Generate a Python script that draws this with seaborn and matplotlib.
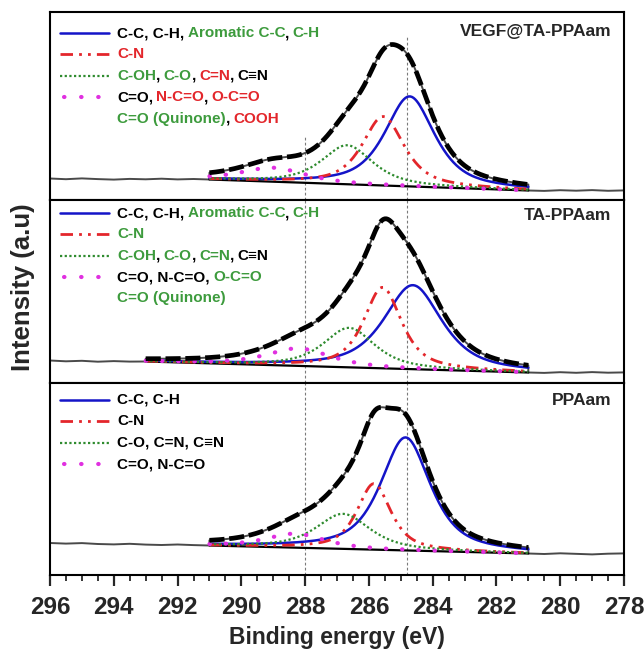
import numpy as np
import pandas as pd
import matplotlib
matplotlib.use("Agg")
import matplotlib.pyplot as plt
import seaborn as sns
from matplotlib.offsetbox import AnchoredOffsetbox, TextArea, HPacker, VPacker, DrawingArea
from matplotlib.lines import Line2D
from matplotlib.ticker import MultipleLocator

# ---------------------------------------------------------------- data
samples = ["VEGF@TA-PPAam", "TA-PPAam", "PPAam"]

# fitted C1s components (centre in eV, height in a.u., FWHM in eV), one entry per sample
cc_center = [284.72, 284.62, 284.85]
cc_height = [90.0, 84.0, 113.0]
cc_fwhm = [1.85, 2.15, 1.85]

cn_center = [285.55, 285.57, 285.84]
cn_height = [69.0, 81.0, 66.0]
cn_fwhm = [1.55, 1.40, 1.25]

co_center = [286.68, 286.62, 286.81]
co_height = [39.0, 39.5, 35.0]
co_fwhm = [1.9, 1.9, 2.0]

cdo_center = [289.0, 288.2, 288.3]
cdo_height = [14.0, 17.5, 14.0]
cdo_fwhm = [2.4, 2.4, 2.2]

# fit window and linear background end points
fit_start = [291.0, 293.0, 291.0]
fit_end = [281.0, 281.0, 281.0]
bg_start = [20.5, 21.5, 29.5]
bg_end = [9.5, 10.5, 21.5]

# measured counts outside the fit window (0.5 eV steps)
left_wing = [
    [21.5, 20.8, 21.6, 20.9, 20.4, 21.1, 20.7, 21.3, 20.6, 21.0, 20.5],
    [22.5, 21.7, 22.2, 21.3, 21.9, 21.4, 21.5],
    [32.0, 31.4, 31.9, 31.0, 30.6, 31.2, 30.4, 30.0, 30.5, 29.9, 29.5],
]
right_wing = [
    [9.5, 9.1, 9.8, 9.3, 9.9, 9.2, 9.6],
    [10.5, 10.1, 10.8, 10.2, 10.9, 10.3, 10.6],
    [21.5, 21.0, 21.7, 21.1, 20.6, 21.3, 21.6],
]

# reference binding energies marked with guide lines
guide_be = [288.0, 284.8]

x_ticks = [296, 294, 292, 290, 288, 286, 284, 282, 280, 278]

# legend texts, split into coloured pieces
K, G, R = "black", "#3d9b3d", "#e3262b"
legend_rows = [
    [
        [("C-C, C-H,", K), ("Aromatic C-C", G), (",", K), ("C-H", G)],
        [("C-N", R)],
        [("C-OH", G), (",", K), ("C-O", G), (",", K), ("C=N", R), (",", K), ("C\u2261N", K)],
        [("C=O,", K), ("N-C=O", R), (",", K), ("O-C=O", R)],
        [("C=O (Quinone)", G), (",", K), ("COOH", R)],
    ],
    [
        [("C-C, C-H,", K), ("Aromatic C-C", G), (",", K), ("C-H", G)],
        [("C-N", G)],
        [("C-OH", G), (",", K), ("C-O", G), (",", K), ("C=N", G), (",", K), ("C\u2261N", K)],
        [("C=O, N-C=O,", K), ("O-C=O", G)],
        [("C=O (Quinone)", G)],
    ],
    [
        [("C-C, C-H", K)],
        [("C-N", K)],
        [("C-O, C=N, C\u2261N", K)],
        [("C=O, N-C=O", K)],
    ],
]

# ---------------------------------------------------------------- style
sns.set_style("ticks")
plt.rcParams["font.family"] = ["Liberation Sans", "DejaVu Sans"]
plt.rcParams["font.weight"] = "bold"

BLUE = "#1414c8"
MAGENTA = "#e030e0"
RAW = "#4a4a4a"

comp_styles = [
    dict(color=BLUE, lw=1.8, ls="-"),
    dict(color=R, lw=2.0, ls=(0, (4.5, 2.2, 1.0, 2.2, 1.0, 2.2))),
    dict(color="#2e8b2e", lw=1.6, ls=(0, (1, 1.1))),
    dict(color=MAGENTA, lw=3.0, ls=(0, (0.1, 3.8)), dash_capstyle="round"),
]
# legend handles: same look, with the sparse dots of the C=O key shifted in
handle_styles = comp_styles[:3] + [
    dict(color=MAGENTA, lw=3.0, ls=(3.13, (0.1, 4.0)), dash_capstyle="round"),
]

LEGEND_FS = 11
TITLE_FS = 12.5


def pseudo_voigt(x, centre, height, fwhm, eta=0.7):
    u = (x - centre) / fwhm
    gauss = np.exp(-4.0 * np.log(2.0) * u ** 2)
    lorentz = 1.0 / (1.0 + 4.0 * u ** 2)
    return height * (eta * lorentz + (1.0 - eta) * gauss)


# ---------------------------------------------------------------- figure
fig = plt.figure(figsize=(6.44, 6.51), dpi=100)
left, width = 50 / 644, 574 / 644
panel_px = [(12, 200), (200, 383), (383, 575)]
legend_anchor_y = [0.925, 0.967, 0.948]
title_y = [0.894, 0.913, 0.911]

axes = []
for top_px, bot_px in panel_px:
    ax = fig.add_axes([left, 1 - bot_px / 651, width, (bot_px - top_px) / 651])
    axes.append(ax)

for i, ax in enumerate(axes):
    top_px, bot_px = panel_px[i]
    ax.set_ylim(0, bot_px - top_px)
    ax.set_xlim(296, 278)

    be = np.arange(fit_start[i], fit_end[i] - 1e-6, -0.05)
    frac = (fit_start[i] - be) / (fit_start[i] - fit_end[i])
    background = bg_start[i] + (bg_end[i] - bg_start[i]) * frac

    comps = [
        pseudo_voigt(be, cc_center[i], cc_height[i], cc_fwhm[i]),
        pseudo_voigt(be, cn_center[i], cn_height[i], cn_fwhm[i]),
        pseudo_voigt(be, co_center[i], co_height[i], co_fwhm[i]),
        pseudo_voigt(be, cdo_center[i], cdo_height[i], cdo_fwhm[i]),
    ]
    envelope = background + np.sum(comps, axis=0)

    lw_be = np.arange(296.0, fit_start[i] - 1e-6, -0.5)
    rw_be = np.arange(fit_end[i], 278.0 - 1e-6, -0.5)
    raw = pd.DataFrame({
        "be": np.concatenate([lw_be, be, rw_be]),
        "counts": np.concatenate([left_wing[i], envelope, right_wing[i]]),
    })

    # guide lines
    spans = [0.335, 0.88] if i == 0 else [1.0, 1.0]
    for gx, top in zip(guide_be, spans):
        ax.axvline(gx, ymin=0, ymax=top, color="#7a7a7a", lw=0.8,
                   ls=(0, (2.5, 2)), zorder=1)

    sns.lineplot(data=raw, x="be", y="counts", sort=False, estimator=None,
                 color=RAW, lw=1.4, ax=ax, zorder=2)
    sns.lineplot(x=be, y=background, sort=False, estimator=None,
                 color="black", lw=1.6, ax=ax, zorder=3)
    for comp, st in zip(comps, comp_styles):
        sns.lineplot(x=be, y=background + comp, sort=False, estimator=None,
                     ax=ax, zorder=4, **st)
    sns.lineplot(x=be, y=envelope, sort=False, estimator=None, color="black",
                 lw=3.4, ls=(0, (3.2, 1.0)), ax=ax, zorder=5)

    # legend with multi-coloured labels
    rows = []
    for r, pieces in enumerate(legend_rows[i]):
        da = DrawingArea(35, 8, 0, 0)
        if r < 4:
            da.add_artist(Line2D([0, 35], [4, 4], **handle_styles[r]))
        children = [da, DrawingArea(6, 1)]
        for k, (txt, col) in enumerate(pieces):
            if k > 0 and not txt.startswith(","):
                children.append(DrawingArea(2.2, 1))
            children.append(TextArea(txt, textprops=dict(color=col, fontsize=LEGEND_FS,
                                                          fontweight="bold")))
        rows.append(HPacker(children=children, align="center", pad=0, sep=0))
    box = VPacker(children=rows, align="left", pad=0, sep=5.3)
    anchored = AnchoredOffsetbox(loc="upper left", child=box, pad=0, borderpad=0,
                                 frameon=False, bbox_to_anchor=(0.018, legend_anchor_y[i]),
                                 bbox_transform=ax.transAxes)
    ax.add_artist(anchored)

    ax.text(0.978, title_y[i], samples[i], transform=ax.transAxes, ha="right",
            va="center", fontsize=TITLE_FS, fontweight="bold")

    ax.set_ylabel("")
    ax.set_yticks([])
    for sp in ax.spines.values():
        sp.set_linewidth(1.5)
        sp.set_color("black")
    if i < 2:
        ax.set_xlabel("")
        ax.tick_params(axis="x", which="both", bottom=False, labelbottom=False)

bax = axes[-1]
bax.set_xticks(x_ticks)
bax.xaxis.set_minor_locator(MultipleLocator(0.5))
bax.tick_params(axis="x", which="major", direction="out", length=8, width=1.6,
                labelsize=17.5, pad=7)
bax.tick_params(axis="x", which="minor", direction="out", length=4.5, width=1.3)
for lab in bax.get_xticklabels():
    lab.set_fontweight("bold")
bax.set_xlabel("Binding energy (eV)", fontsize=16.5, fontweight="bold", labelpad=5)

fig.text(0.036, 0.559, "Intensity (a.u)", rotation=90, fontsize=18.5,
         fontweight="bold", ha="center", va="center")

fig.savefig("out.png", dpi=100)
